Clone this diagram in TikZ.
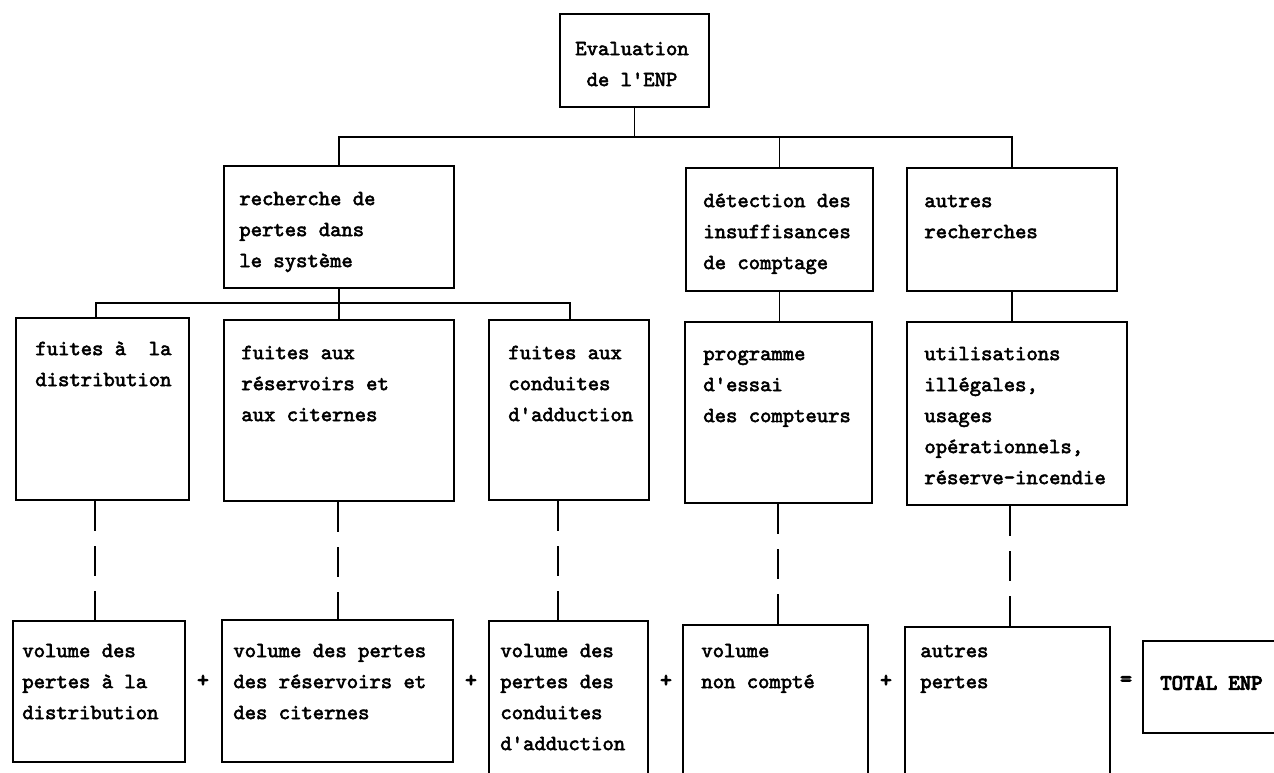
\documentclass[tikz,border=0pt]{standalone}
\usepackage{fontspec}
\usetikzlibrary{fit,calc}
\newfontfamily\tw{lmmono10-regular.otf}[FakeBold=2.6]
\newfontfamily\twb{lmmono10-regular.otf}[FakeBold=5]
\begin{document}
\begin{tikzpicture}[x=0.5pt,y=-0.5pt,
  box/.style={draw, line width=1pt, inner sep=0pt},
  txt/.style={font=\tw\fontsize{10.8pt}{15.5pt}\selectfont, inner sep=0pt, align=left, anchor=north west},
  link/.style={line width=0.8pt},
  dashlink/.style={line width=0.8pt, dash pattern=on 15pt off 7.5pt},
  sign/.style={font=\twb\fontsize{10.8pt}{15.5pt}\selectfont, inner sep=0pt}]
\useasboundingbox (0,0) rectangle (1274,772);
\fill[white] (0,0) rectangle (1274,772);
\clip (0,0) rectangle (1274,772);

% ---------- boxes ----------
\node[box, fit={(560,14)(709,107)}] (T) {};
\node[box, fit={(224,166)(454,288)}] (R) {};
\node[box, fit={(686,168)(873,291)}] (D1) {};
\node[box, fit={(907,168)(1117,291)}] (A1) {};

\node[box, fit={(16,318)(189,500)}] (A) {};
\node[box, fit={(224,320)(454,501)}] (B) {};
\node[box, fit={(489,320)(649,500)}] (C) {};
\node[box, fit={(685,322)(872,503)}] (D) {};
\node[box, fit={(907,322)(1127,505)}] (E) {};

\node[box, fit={(13,621)(185,762)}] (F) {};
\node[box, fit={(222,620)(453,762)}] (G) {};
\node[box, fit={(489,621)(648,800)}] (H) {};
\node[box, fit={(683,625)(868,800)}] (I) {};
\node[box, fit={(905,627)(1110,800)}] (J) {};
\node[box, fit={(1143,641)(1300,733)}] (K) {};

% ---------- texts ----------
\node[txt, align=center, anchor=north] (Tt) at (632,33) {\strut Evaluation\\de l'ENP};
\node[txt] (Rt) at (239,183) {\strut recherche de\\pertes dans\\le système};
\node[txt] (D1t) at (703,185) {\strut détection des\\insuffisances\\de comptage};
\node[txt] (A1t) at (924,185) {\strut autres\\recherches};

\node[txt] (At) at (35,333) {\strut fuites à~ la\\distribution};
\node[txt] (Bt) at (241,337) {\strut fuites aux\\réservoirs et\\aux citernes};
\node[txt] (Ct) at (508,337) {\strut fuites aux\\conduites\\d'adduction};
\node[txt] (Dt) at (703,338) {\strut programme\\d'essai\\des compteurs};
\node[txt] (Et) at (924,338) {\strut utilisations\\illégales,\\usages\\opérationnels,\\réserve-incendie};

\node[txt] (Ft) at (22,635) {\strut volume des\\pertes à la\\distribution};
\node[txt] (Gt) at (233,635) {\strut volume des pertes\\des réservoirs et\\des citernes};
\node[txt] (Ht) at (500,635) {\strut volume des\\pertes des\\conduites\\d'adduction};
\node[txt] (It) at (701,635) {\strut volume\\non compté};
\node[txt] (Jt) at (920,635) {\strut autres\\pertes};
\node[font=\twb\fontsize{10.8pt}{15.5pt}\selectfont, inner sep=0pt, anchor=west] (Kt) at (1160,683) {TOTAL ENP};

% ---------- signs ----------
\node[sign] (p1) at (203,681) {+};
\node[sign] (p2) at (471,681) {+};
\node[sign] (p3) at (666,681) {+};
\node[sign] (p4) at (886,681) {+};
\node[sign] (eq) at (1126,681) {=};

% ---------- connectors ----------
\coordinate (bar1) at (0,137);
\coordinate (bar2) at (0,303);
\draw[link] (T.south) -- (T.south |- bar1);
\draw[link] (R.north) -- (R.north |- bar1) -- (A1.north |- bar1) -- (A1.north);
\draw[link] (D1.north) -- (D1.north |- bar1);

\coordinate (xa) at (96,0);
\coordinate (xc) at (570,0);
\draw[link] (R.south) -- (R.south |- bar2);
\draw[link] (A.north -| xa) -- (bar2 -| xa) -- (bar2 -| xc) -- (C.north -| xc);
\draw[link] (B.north) -- (B.north |- bar2);
\draw[link] (D1.south) -- (D1.south |- D.north);
\draw[link] (A1.south) -- (A1.south |- E.north);

\coordinate (dA) at (95,0);
\coordinate (dB) at (338,0);
\coordinate (dC) at (558,0);
\coordinate (dD) at (778,0);
\coordinate (dE) at (1010,0);
\draw[dashlink] (A.south -| dA) -- (F.north -| dA);
\draw[dashlink] (B.south -| dB) -- (G.north -| dB);
\draw[dashlink] (C.south -| dC) -- (H.north -| dC);
\draw[dashlink] (D.south -| dD) -- (I.north -| dD);
\draw[dashlink] (E.south -| dE) -- (J.north -| dE);
\end{tikzpicture}
\end{document}
